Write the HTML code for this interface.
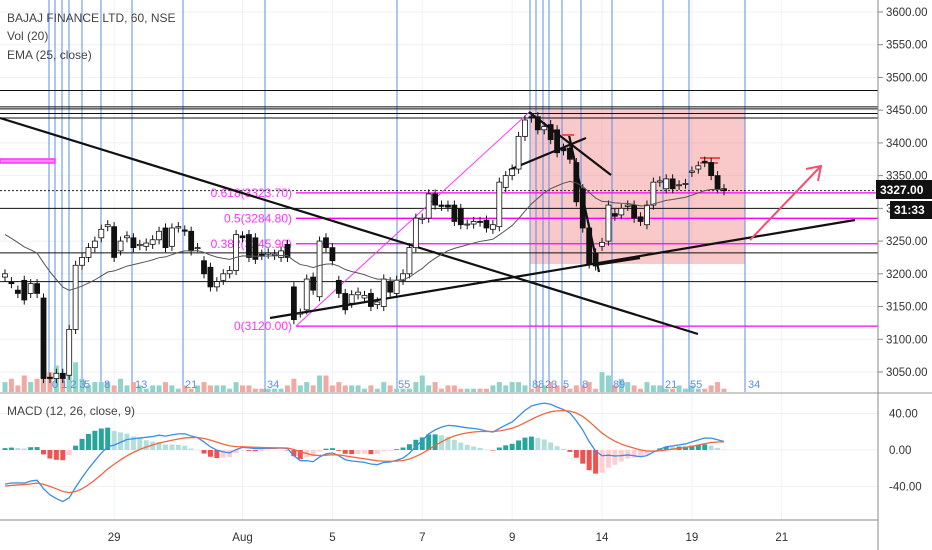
<!DOCTYPE html>
<html><head><meta charset="utf-8"><style>
html,body{margin:0;padding:0;background:#fff;}
svg{display:block;font-family:"Liberation Sans",sans-serif;}
</style></head><body>
<svg id="c" width="932" height="550" viewBox="0 0 932 550"></svg>
<script>
const openP=[3195,3188,3175,3190,3170,3185,3163,3042,3040,3048,3045,3115,3213,3225,3240,3255,3272,3272,3235,3255,3255,3243,3242,3245,3252,3270,3242,3270,3267,3265,3240,3220,3210,3180,3190,3200,3205,3258,3260,3255,3230,3230,3228,3225,3245,3180,3140,3145,3195,3165,3255,3240,3190,3170,3155,3168,3163,3170,3153,3150,3188,3170,3190,3200,3240,3283,3285,3322,3305,3305,3305,3300,3275,3276,3280,3282,3268,3272,3332,3350,3360,3410,3440,3440,3420,3428,3420,3392,3392,3370,3330,3270,3232,3242,3250,3292,3290,3303,3305,3287,3275,3305,3340,3330,3345,3335,3337,3355,3360,3372,3370,3350,3330];
const closeP=[3200,3185,3170,3160,3185,3170,3040,3040,3048,3040,3115,3213,3225,3240,3250,3268,3275,3225,3250,3258,3240,3245,3247,3252,3265,3240,3270,3272,3265,3235,3240,3200,3180,3188,3200,3205,3260,3255,3225,3222,3228,3232,3230,3235,3225,3130,3140,3192,3175,3250,3240,3220,3170,3145,3168,3172,3167,3150,3157,3192,3172,3190,3200,3240,3285,3285,3322,3305,3303,3302,3280,3275,3276,3280,3279,3270,3275,3340,3350,3360,3410,3435,3438,3420,3425,3405,3385,3388,3375,3310,3270,3215,3212,3248,3305,3288,3300,3305,3285,3280,3305,3340,3342,3345,3330,3336,3338,3357,3365,3370,3350,3330,3327];
const volume=[3,4,2,5,3,4,9,6,8,5,7,9,4,2,3,3,3,2,4,2,3,2,1,2,2,3,2,1,2,1,2,3,2,2,2,1,3,2,2,1,1,1,1,1,2,4,2,3,2,5,5,2,3,2,2,2,1,2,1,3,2,1,1,1,3,5,2,3,1,2,2,1,1,1,1,1,2,3,2,3,3,2,1,2,2,3,2,2,1,2,2,3,1,6,5,2,4,3,2,1,3,2,2,1,1,2,1,2,1,1,2,3,1];
const priceTicks=[3600,3550,3500,3450,3400,3350,3300,3250,3200,3150,3100,3050];
const macdTicks=[40,0,-40];
const dateLabels=["29","Aug","5","7","9","14","19","21"];
const dateIdx=[17,37,51,65,79,93,107,121];
const hLines=[3480,3455,3452,3445,3438,3300,3232,3188];
const fibLevels=[3323.7,3284.8,3245.9,3120];
const fibNames=["0.618(3323.70)","0.5(3284.80)","0.382(3245.90)","0(3120.00)"];

const S=document.getElementById('c');const NS='http://www.w3.org/2000/svg';
function el(t,a,p){const e=document.createElementNS(NS,t);for(const k in a)e.setAttribute(k,a[k]);(p||S).appendChild(e);return e;}
const y=p=>12+(3600-p)*0.6545;
const x=i=>5+i*(719/(closeP.length-1));
const my=v=>450-v*0.9125;
priceTicks.forEach(p=>{const l=el('line',{x1:0,x2:878,y1:y(p),y2:y(p),stroke:'#eef2f6'});});
dateIdx.forEach(i=>{const l=el('line',{x1:x(i),x2:x(i),y1:0,y2:520,stroke:'#eef2f6'});});
macdTicks.forEach(v=>{const l=el('line',{x1:0,x2:878,y1:my(v),y2:my(v),stroke:'#eef2f6'});});
let r=el('rect',{x:530,y:y(3450),width:215,height:y(3215)-y(3450),fill:'rgba(240,110,110,0.38)'});
[49,55,62,69,82,101,132,183,265,397,530,536,543,549,562,581,612,663,689,745].forEach(xx=>{const l=el('line',{x1:xx,x2:xx,y1:0,y2:392,stroke:'#5b8ef0','stroke-width':1});});
closeP.forEach((c,i)=>{const h=volume[i]*3.3;const b=el('rect',{x:x(i)-2.5,y:392-h,width:5,height:h,fill:c>=openP[i]?'#8fd3cb':'#f3a9a3'});});
[[52,"0 1 2 3"],[84,"5"],[104,"8"],[135,"13"],[185,"21"],[267,"34"],[398,"55"],[532,"88"],[545,"23"],[563,"5"],[582,"8"],[613,"89"],[665,"21"],[690,"55"],[748,"34"]].forEach(a=>{const t=el('text',{x:a[0],y:388,fill:'#5b8ef0','font-size':11});t.textContent=a[1];});
hLines.forEach(p=>{const l=el('line',{x1:0,x2:878,y1:y(p),y2:y(p),stroke:'#111','stroke-width':1});});
let d=el('line',{x1:0,x2:878,y1:y(3327),y2:y(3327),stroke:'#222','stroke-dasharray':'2,2'});
fibLevels.forEach((p,i)=>{const l=el('line',{x1:296,x2:878,y1:y(p),y2:y(p),stroke:'#ff00ff','stroke-width':1.3});
const t=el('text',{x:292,y:y(p)+4,fill:'#ff33ff','font-size':12,'text-anchor':'end'});t.textContent=fibNames[i];});
let m=el('rect',{x:0,y:159,width:55,height:4,fill:'#ff88ff',stroke:'#ff33ff','stroke-width':1.5});
let fd=el('line',{x1:296,y1:y(3120),x2:530,y2:y(3448),stroke:'#ff33ff','stroke-width':1});
[[0,118,698,334],[270,318,855,220],[529,112,611,175],[509,170,586,138],[569,135,599,272],[595,265,640,258]].forEach(a=>{const l=el('line',{x1:a[0],y1:a[1],x2:a[2],y2:a[3],stroke:'#111','stroke-width':2.2});});
let ar=el('path',{d:'M750 240 L820 167 M806 169 L821 166 L818 181',stroke:'#f0506e','stroke-width':2,fill:'none'});
let rm=el('path',{d:'M562 135 h12 M700 158 h20 M700 163 h18',stroke:'#f05050','stroke-width':2});
closeP.forEach((c,i)=>{const o=openP[i];const hi=Math.max(o,c)+7,lo=Math.min(o,c)-7;const g=el('g',{});
el('line',{x1:x(i),x2:x(i),y1:y(hi),y2:y(lo),stroke:'#111'},g);
const t=y(Math.max(o,c)),b=y(Math.min(o,c));el('rect',{x:x(i)-2.5,y:t,width:5,height:Math.max(1,b-t),fill:c>=o?'#fff':'#111',stroke:'#111','stroke-width':0.8},g);});
let e=3265,pts=[];closeP.forEach((c,i)=>{e=e+(c-e)*2/26;pts.push(x(i)+','+y(e));});
let ep=el('polyline',{points:pts.join(' '),fill:'none',stroke:'#555','stroke-width':1});
let e12=closeP[0]+5,e26=closeP[0]+45,sig=-40,mp=[],sp=[];
closeP.forEach((c,i)=>{e12+=(c-e12)*2/13;e26+=(c-e26)*2/27;const mv=e12-e26;sig+=(mv-sig)*2/10;mp.push(mv);sp.push(sig);});
let prev=0;mp.forEach((mv,i)=>{const h=mv-sp[i];const col=h>=0?(h>=prev?'#26a69a':'#b2dfdb'):(h<=prev?'#ef5350':'#ffcdd2');prev=h;
const b=el('rect',{x:x(i)-2.5,y:Math.min(my(0),my(h)),width:5,height:Math.abs(my(h)-my(0)),fill:col});});
let ml=el('polyline',{points:mp.map((v,i)=>x(i)+','+my(v)).join(' '),fill:'none',stroke:'#3b8de8','stroke-width':1.3});
let sl=el('polyline',{points:sp.map((v,i)=>x(i)+','+my(v)).join(' '),fill:'none',stroke:'#f0683f','stroke-width':1.3});
[[0,393,932,393,'#999'],[0,520,878,520,'#888'],[878,0,878,550,'#888']].forEach(a=>{const l=el('line',{x1:a[0],y1:a[1],x2:a[2],y2:a[3],stroke:a[4]});});
priceTicks.forEach(p=>{el('line',{x1:878,x2:883,y1:y(p),y2:y(p),stroke:'#888'});const t=el('text',{x:886,y:y(p)+4,'font-size':11.5,fill:'#333'});t.textContent=p.toFixed(2);});
macdTicks.forEach(v=>{const t=el('text',{x:889,y:my(v)+4,'font-size':11.5,fill:'#333'});t.textContent=v.toFixed(2);});
dateLabels.forEach((s,i)=>{const t=el('text',{x:x(dateIdx[i]),y:541,'font-size':11.5,fill:'#333','text-anchor':'middle'});t.textContent=s;});
let pb=el('rect',{x:876,y:180,width:56,height:19,fill:'#111'});
let pt=el('text',{x:880,y:194,'font-size':12,fill:'#fff','font-weight':'bold'});pt.textContent='3327.00';
let cb=el('rect',{x:890,y:201,width:42,height:18,fill:'#111'});
let ct=el('text',{x:894,y:214,'font-size':12,fill:'#fff','font-weight':'bold'});ct.textContent='31:33';
[["BAJAJ FINANCE LTD, 60, NSE",22,'normal'],["Vol (20)",40,'normal'],["EMA (25, close)",59,'normal'],["MACD (12, 26, close, 9)",415,'normal']].forEach(a=>{const t=el('text',{x:7,y:a[1],'font-size':12,fill:'#444','font-weight':a[2]});t.textContent=a[0];});
</script>
</body></html>
